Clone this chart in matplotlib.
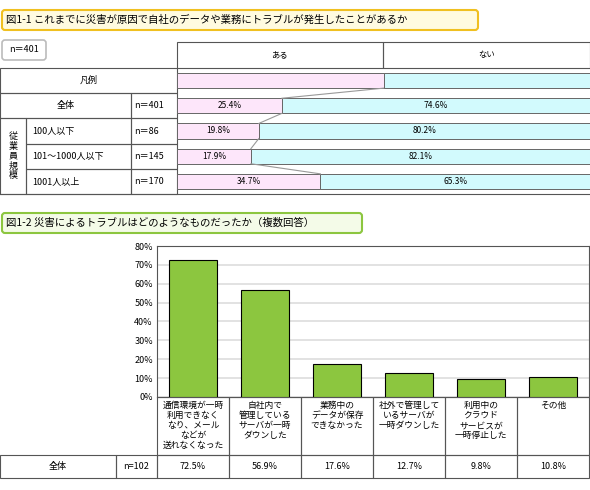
import matplotlib.pyplot as plt
from matplotlib.patches import Rectangle, FancyBboxPatch

plt.rcParams['font.family'] = ['Noto Sans CJK JP', 'DejaVu Sans']

# ---- data ----
title1 = '図1-1 これまでに災害が原因で自社のデータや業務にトラブルが発生したことがあるか'
title2 = '図1-2 災害によるトラブルはどのようなものだったか（複数回答）'
row_labels = ['全体', '100人以下', '101～1000人以下', '1001人以上']
row_n = ['n＝401', 'n＝86', 'n＝145', 'n＝170']
aru = [25.4, 19.8, 17.9, 34.7]
nai = [74.6, 80.2, 82.1, 65.3]
cats = ['通信環境が一時\n利用できなく\nなり、メール\nなどが\n送れなくなった',
        '自社内で\n管理している\nサーバが一時\nダウンした',
        '業務中の\nデータが保存\nできなかった',
        '社外で管理して\nいるサーバが\n一時ダウンした',
        '利用中の\nクラウド\nサービスが\n一時停止した',
        'その他']
vals = [72.5, 56.9, 17.6, 12.7, 9.8, 10.8]
yticks = [0, 10, 20, 30, 40, 50, 60, 70, 80]

W, H = 590, 490
fig = plt.figure(figsize=(W / 100, H / 100), dpi=100)
bg = fig.add_axes([0, 0, 1, 1])
bg.set_xlim(0, W)
bg.set_ylim(H, 0)
bg.axis('off')


def px_axes(x0, y0, x1, y1):
    return fig.add_axes([x0 / W, 1 - y1 / H, (x1 - x0) / W, (y1 - y0) / H])


def cell(x0, y0, x1, y1, text='', lw=0.8, ha='center', fs=6.5, pad=6):
    bg.add_patch(Rectangle((x0, y0), x1 - x0, y1 - y0, fill=False, ec='#555', lw=lw))
    if text:
        tx = (x0 + x1) / 2 if ha == 'center' else x0 + pad
        bg.text(tx, (y0 + y1) / 2, text, ha=ha, va='center', fontsize=fs)


def title_box(x0, y0, x1, y1, text, ec, fc):
    bg.add_patch(FancyBboxPatch((x0, y0), x1 - x0, y1 - y0, boxstyle='round,pad=0,rounding_size=3',
                                ec=ec, fc=fc, lw=1.5))
    bg.text(x0 + 4, (y0 + y1) / 2, text, ha='left', va='center', fontsize=7.5)


def small_box(x0, y0, x1, y1, text):
    bg.add_patch(FancyBboxPatch((x0, y0), x1 - x0, y1 - y0, boxstyle='round,pad=0,rounding_size=3',
                                ec='#bbb', fc='white', lw=1.2))
    bg.text((x0 + x1) / 2, (y0 + y1) / 2, text, ha='center', va='center', fontsize=6.5)


# ---- figure 1-1 ----
title_box(2, 10, 478, 30, title1, '#f0c020', '#fffbe0')
small_box(2, 40, 46, 60, 'n＝401')
cell(177, 42, 383, 68, 'ある', fs=6)
cell(383, 42, 590, 68, 'ない', fs=6)
rows_y = [68 + 25.2 * k for k in range(6)]
cell(0, rows_y[0], 177, rows_y[1], '凡例')
cell(0, rows_y[1], 131, rows_y[2], row_labels[0])
cell(131, rows_y[1], 177, rows_y[2], row_n[0], ha='left', pad=3)
bg.add_patch(Rectangle((0, rows_y[2]), 26, rows_y[5] - rows_y[2], fill=False, ec='#555', lw=0.8))
bg.text(13, (rows_y[2] + rows_y[5]) / 2, '従\n業\n員\n規\n模', ha='center', va='center',
        fontsize=6.5, linespacing=1.1)
for k in range(1, 4):
    cell(26, rows_y[k + 1], 131, rows_y[k + 2], row_labels[k], ha='left')
    cell(131, rows_y[k + 1], 177, rows_y[k + 2], row_n[k], ha='left', pad=3)
bg.plot([0, 590], [rows_y[5], rows_y[5]], color='#555', lw=0.8)

ax1 = px_axes(177, rows_y[0], 590, rows_y[5])
ax1.set_xlim(0, 100)
ax1.set_ylim(4.5, -0.5)
ax1.axis('off')
bh = 0.6
pink, cyan = '#fde6fa', '#d2fafd'
ax1.barh(0, 50, height=bh, color=pink, ec='#666', lw=0.7)
ax1.barh(0, 50, left=50, height=bh, color=cyan, ec='#666', lw=0.7)
for i, (a, n) in enumerate(zip(aru, nai)):
    y = i + 1
    ax1.barh(y, a, height=bh, color=pink, ec='#666', lw=0.7)
    ax1.barh(y, n, left=a, height=bh, color=cyan, ec='#666', lw=0.7)
    ax1.text(a / 2, y, f'{a:.1f}%', ha='center', va='center', fontsize=6)
    ax1.text(a + n / 2, y, f'{n:.1f}%', ha='center', va='center', fontsize=6)
prev = [50] + aru
for i in range(4):
    ax1.plot([prev[i], prev[i + 1]], [i + bh / 2, i + 1 - bh / 2], color='#999', lw=0.8)

# ---- figure 1-2 ----
title_box(2, 213, 362, 233, title2, '#8cc63f', '#f4fbe8')
ax2 = px_axes(157, 246, 589, 397)
x = range(len(vals))
ax2.bar(x, vals, width=0.68, color='#8cc63f', ec='black', lw=0.8, zorder=3)
ax2.set_xlim(-0.5, len(vals) - 0.5)
ax2.set_ylim(0, 80)
ax2.set_yticks(yticks)
ax2.set_yticklabels([f'{t}%' for t in yticks], fontsize=6.5)
ax2.set_xticks([])
ax2.grid(axis='y', color='#ddd', lw=1.2, zorder=0)
ax2.tick_params(axis='y', length=0, pad=3)
for s in ax2.spines.values():
    s.set_color('#555')
    s.set_linewidth(0.8)
small_box(537, 253, 582, 273, 'n=102')

colw = (589 - 157) / len(vals)
for i, (c, v) in enumerate(zip(cats, vals)):
    x0 = 157 + i * colw
    bg.add_patch(Rectangle((x0, 397), colw, 58, fill=False, ec='#555', lw=0.8))
    bg.text(x0 + colw / 2, 401, c, ha='center', va='top', fontsize=6.3, linespacing=1.15)
    cell(x0, 455, x0 + colw, 478, f'{v:.1f}%')
cell(0, 455, 116, 478, '全体')
cell(116, 455, 157, 478, 'n=102')

fig.savefig('out.png', dpi=100)
